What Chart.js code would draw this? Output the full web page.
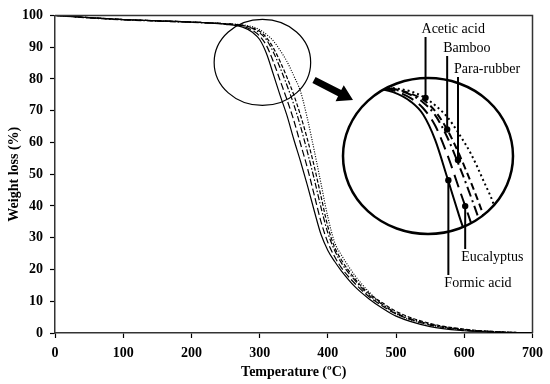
<!DOCTYPE html>
<html>
<head>
<meta charset="utf-8">
<script src="https://cdn.jsdelivr.net/npm/chart.js@4.4.0/dist/chart.umd.min.js"></script>
<style>
  body { margin: 0; background: #fff; }
  #wrap { position: relative; width: 550px; height: 384px; }
  #wrap canvas { position: absolute; left: 0; top: 0; }
</style>
</head>
<body>
<div id="wrap">
  <canvas id="mainChart" width="550" height="384"></canvas>
  <canvas id="zoomChart" width="550" height="384"></canvas>
</div>
<script>
// temperatures (oC) and weight (%)
const temps = [0, 50, 100, 150, 200, 250, 275, 290, 300, 310, 320, 330, 340, 350, 360, 370, 380, 390, 400, 410, 420, 440, 460, 480, 500, 550, 600, 650, 700];
const formicAcid = [100, 99.3, 98.7, 98.3, 97.9, 97.2, 96.3, 94.6, 92.4, 88.0, 81.5, 74.8, 68.5, 61.0, 54.0, 46.5, 38.5, 31.0, 26.0, 22.5, 19.5, 14.5, 10.8, 7.8, 5.3, 2.0, 0.7, 0.2, 0];
const eucalyptus = [100, 99.3, 98.7, 98.3, 97.9, 97.3, 96.6, 95.2, 93.5, 90.5, 85.5, 79.5, 73.5, 67.0, 59.5, 52.0, 43.5, 35.0, 28.5, 24.0, 20.5, 15.5, 11.5, 8.5, 6.0, 2.5, 0.9, 0.3, 0];
const paraRubber = [100, 99.2, 98.6, 98.2, 97.8, 97.3, 96.8, 95.8, 94.5, 92.3, 88.5, 83.5, 78.0, 72.0, 65.0, 57.0, 48.5, 39.5, 31.5, 26.0, 22.0, 16.5, 12.0, 9.0, 6.3, 2.8, 1.1, 0.4, 0];
const bamboo = [100, 99.3, 98.7, 98.3, 97.9, 97.4, 96.9, 96.0, 95.0, 93.0, 89.8, 85.5, 80.5, 75.0, 68.5, 61.0, 52.5, 43.0, 33.5, 27.0, 23.0, 17.0, 12.5, 9.5, 6.8, 3.0, 1.2, 0.4, 0];
const aceticAcid = [100, 99.3, 98.7, 98.3, 97.9, 97.4, 97.0, 96.4, 95.5, 94.0, 92.0, 89.0, 85.5, 81.0, 76.0, 67.5, 57.5, 47.0, 36.5, 28.5, 24.5, 18.0, 13.0, 9.0, 6.0, 2.5, 1.0, 0.3, 0];

const seriesNames = ['Formic acid', 'Eucalyptus', 'Para-rubber', 'Bamboo', 'Acetic acid'];
const seriesValues = [formicAcid, eucalyptus, paraRubber, bamboo, aceticAcid];

// magnified window
const zoomT = [233.3, 374.8];
const zoomW = [71.65, 98.75];

// callout dots (on the curves in the magnified view)
const calloutNames = ['Acetic acid', 'Bamboo', 'Para-rubber', 'Formic acid', 'Eucalyptus'];
const calloutT = [302, 320, 329, 321, 335];
const calloutW = [95.3, 89.8, 84.5, 81.0, 76.5];

const serif = "'Liberation Serif', 'DejaVu Serif', serif";
const mainDash = [[], [7, 3], [6, 2, 1.5, 2], [4, 2], [1, 1.5]];
const zoomDash = [[], [13, 7], [10, 4, 2, 4], [7, 4], [2, 3]];

function makeSets(widths, dashes) {
  return seriesValues.map((vals, i) => ({
    label: seriesNames[i],
    data: temps.map((t, j) => ({ x: t, y: vals[j] })),
    borderColor: '#000',
    borderWidth: widths,
    borderDash: dashes[i],
    pointRadius: 0,
    fill: false,
    cubicInterpolationMode: 'monotone'
  }));
}

const frameAndLoupe = {
  id: 'frameAndLoupe',
  afterDraw(chart) {
    const { ctx, chartArea: a, scales } = chart;
    ctx.save();
    ctx.strokeStyle = '#333';
    ctx.lineWidth = 1.5;
    ctx.beginPath();
    ctx.moveTo(a.left, a.top);
    ctx.lineTo(a.right, a.top);
    ctx.lineTo(a.right, a.bottom);
    ctx.stroke();

    // small circle round the zoomed region
    const x0 = scales.x.getPixelForValue(zoomT[0]), x1 = scales.x.getPixelForValue(zoomT[1]);
    const y0 = scales.y.getPixelForValue(zoomW[1]), y1 = scales.y.getPixelForValue(zoomW[0]);
    ctx.strokeStyle = '#000';
    ctx.lineWidth = 1.2;
    ctx.beginPath();
    ctx.ellipse((x0 + x1) / 2, (y0 + y1) / 2, (x1 - x0) / 2, (y1 - y0) / 2, 0, 0, Math.PI * 2);
    ctx.stroke();

    // arrow
    const sx = 314, sy = 80, ex = 353, ey = 100;
    const ang = Math.atan2(ey - sy, ex - sx);
    ctx.translate(sx, sy);
    ctx.rotate(ang);
    const len = Math.hypot(ex - sx, ey - sy);
    ctx.fillStyle = '#000';
    ctx.beginPath();
    ctx.moveTo(0, -3.5);
    ctx.lineTo(len - 15, -3.5);
    ctx.lineTo(len - 15, -9);
    ctx.lineTo(len, 0);
    ctx.lineTo(len - 15, 9);
    ctx.lineTo(len - 15, 3.5);
    ctx.lineTo(0, 3.5);
    ctx.closePath();
    ctx.fill();
    ctx.restore();
  }
};

new Chart(document.getElementById('mainChart'), {
  type: 'line',
  data: { datasets: makeSets(1.2, mainDash) },
  options: {
    responsive: false,
    animation: false,
    layout: { padding: { top: 12, right: 15, left: 0, bottom: 0 } },
    plugins: { legend: { display: false }, tooltip: { enabled: false } },
    scales: {
      x: {
        type: 'linear', min: 0, max: 700,
        ticks: { stepSize: 100, color: '#000', padding: 7, maxRotation: 0,
                 font: { family: serif, size: 14, weight: 'bold' } },
        grid: { drawOnChartArea: false, drawTicks: true, tickLength: 5, color: '#000', tickWidth: 1.2 },
        border: { color: '#333', width: 1.5 },
        title: { display: true, text: 'Temperature (ºC)', color: '#000',
                 font: { family: serif, size: 14, weight: 'bold' }, padding: { top: 2, bottom: 3 } },
        afterFit(s) { s.height = 51; }
      },
      y: {
        min: 0, max: 100,
        ticks: { stepSize: 10, color: '#000', padding: 7,
                 font: { family: serif, size: 14, weight: 'bold' } },
        grid: { drawOnChartArea: false, drawTicks: true, tickLength: 5, color: '#000', tickWidth: 1.2 },
        border: { color: '#333', width: 1.5 },
        title: { display: true, text: 'Weight loss (%)', color: '#000',
                 font: { family: serif, size: 14, weight: 'bold' }, padding: { top: 6, bottom: 4 } },
        afterFit(s) { s.width = 55; }
      }
    }
  },
  plugins: [frameAndLoupe]
});

// y of each callout text centre (px)
const calloutTextY = [29, 48, 69, 283, 257];

const zoomCircle = {
  id: 'zoomCircle',
  beforeDatasetsDraw(chart) {
    const { ctx, chartArea: a } = chart;
    ctx.save();
    ctx.fillStyle = '#fff';
    ctx.beginPath();
    ctx.ellipse((a.left + a.right) / 2, (a.top + a.bottom) / 2, (a.right - a.left) / 2, (a.bottom - a.top) / 2, 0, 0, Math.PI * 2);
    ctx.fill();
    ctx.clip();
  },
  afterDatasetsDraw(chart) {
    const { ctx, chartArea: a, scales } = chart;
    ctx.restore();
    ctx.save();
    ctx.strokeStyle = '#000';
    ctx.lineWidth = 2.5;
    ctx.beginPath();
    ctx.ellipse((a.left + a.right) / 2, (a.top + a.bottom) / 2, (a.right - a.left) / 2, (a.bottom - a.top) / 2, 0, 0, Math.PI * 2);
    ctx.stroke();

    ctx.font = '14px ' + serif;
    ctx.textBaseline = 'middle';
    ctx.textAlign = 'left';
    ctx.fillStyle = '#000';
    ctx.lineWidth = 2;
    calloutNames.forEach((name, i) => {
      const px = scales.x.getPixelForValue(calloutT[i]);
      const py = scales.y.getPixelForValue(calloutW[i]);
      const ty = calloutTextY[i];
      const lineEnd = ty < py ? ty + 8 : ty - 8;
      ctx.beginPath();
      ctx.moveTo(px, py);
      ctx.lineTo(px, lineEnd);
      ctx.stroke();
      ctx.beginPath();
      ctx.arc(px, py, 3.2, 0, Math.PI * 2);
      ctx.fill();
      ctx.fillText(name, px - 4, ty);
    });
    ctx.restore();
  }
};

new Chart(document.getElementById('zoomChart'), {
  type: 'line',
  data: { datasets: makeSets(2, zoomDash) },
  options: {
    responsive: false,
    animation: false,
    layout: { padding: { left: 343, top: 78, right: 37, bottom: 150 } },
    plugins: { legend: { display: false }, tooltip: { enabled: false } },
    scales: {
      x: { type: 'linear', display: false, min: zoomT[0], max: zoomT[1] },
      y: { display: false, min: zoomW[0], max: zoomW[1] }
    }
  },
  plugins: [zoomCircle]
});
</script>
</body>
</html>
